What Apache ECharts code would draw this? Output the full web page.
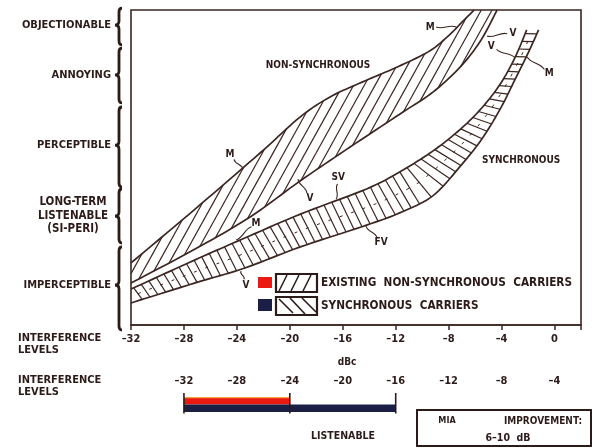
<!DOCTYPE html>
<html><head><meta charset="utf-8">
<script src="https://cdn.jsdelivr.net/npm/echarts/dist/echarts.min.js"></script>
<style>html,body{margin:0;padding:0;background:#fff}#c{width:595px;height:448px}</style>
</head><body><div id="c"></div>
<script>
// ---------- data (x = dBc, y = impairment level, 0 = bottom of scale, 100 = top) ----------
const xTickValues = [-32, -28, -24, -20, -16, -12, -8, -4, 0];
const listenTicks = [-32, -28, -24, -20, -16, -12, -8, -4];

// non-synchronous band: M (upper) and V (lower) curves
const nonSyncM = [[-32,19.7],[-27.16,36.8],[-22.25,54.6],[-19.23,66.0],[-16.96,72.4],[-14.54,77.1],[-12.05,81.6],[-9.55,86.7],[-8.04,91.7],[-6.98,96.2],[-6.07,100]];
const nonSyncV = [[-32,13.3],[-27.16,24.1],[-23.0,34.3],[-19.23,45.7],[-15.45,56.5],[-11.67,67.0],[-9.17,74.0],[-7.06,82.2],[-5.55,90.5],[-4.34,100]];
// synchronous band: upper (M / SV / V) and lower (V / FV / M) curves
const syncUpper = [[-32,11.4],[-27.2,20.6],[-23.9,26.7],[-19.2,35.2],[-14.2,43.2],[-11.7,48.6],[-9.2,55.2],[-7.1,62.2],[-5.5,68.9],[-4.1,76.5],[-3.0,84.8],[-2.1,93.7]];
const syncLower = [[-32,7.0],[-27.2,13.3],[-23.4,18.1],[-19.2,24.8],[-14.2,31.7],[-11.7,35.6],[-9.2,41.0],[-7.1,50.5],[-5.5,59.0],[-4.1,68.6],[-3.0,77.8],[-2.0,86.3],[-1.2,93.7]];

// subjective levels: name, top, bottom, label centre (same y units)
const levelNames = ['OBJECTIONABLE', 'ANNOYING', 'PERCEPTIBLE', 'LONG-TERM\nLISTENABLE\n(SI-PERI)', 'IMPERCEPTIBLE'];
const levelTop = [100.6, 87.9, 69.2, 43.2, 24.8];
const levelBottom = [88.9, 70.5, 43.8, 26.0, -1.6];
const levelMid = [95.2, 79.4, 57.1, 34.6, 12.7];

// curve annotations: text, label position, curve point
const annText = ['M', 'V', 'V', 'M', 'M', 'V', 'SV', 'M', 'FV', 'V', 'NON-SYNCHRONOUS', 'SYNCHRONOUS'];
const annLabel = [[-9.40,94.6],[-3.13,92.7],[-4.79,88.3],[-0.40,80.0],[-24.52,54.0],[-18.47,40.3],[-16.35,46.7],[-22.55,32.4],[-13.10,26.3],[-23.31,12.7],[-17.87,82.5],[-2.52,52.4]];
const annTarget = [[-7.43,94.6],[-5.09,91.7],[-2.98,84.8],[-2.07,85.1],[-23.53,49.5],[-19.38,46.3],[-16.50,40.0],[-24.06,27.0],[-14.24,31.4],[-23.69,17.1],null,null];

// listenable ranges on the second scale
const nonSyncListenable = [-32, -24];
const syncListenable = [-32, -16];

// ---------- styling ----------
const FONT = "'DejaVu Sans Condensed','Liberation Sans Narrow','DejaVu Sans',sans-serif";
const INK = '#2c1b18';
const LINE = '#3b2621';
const f = (sz) => 'bold ' + sz + 'px ' + FONT;

function catmull(pts, n) {
  const out = [];
  for (let i = 0; i < pts.length - 1; i++) {
    const p0 = pts[i - 1] || pts[i], p1 = pts[i], p2 = pts[i + 1], p3 = pts[i + 2] || pts[i + 1];
    for (let k = 0; k < n; k++) {
      const t = k / n, t2 = t * t, t3 = t2 * t;
      const o = [0, 1].map(d => 0.5 * (2 * p1[d] + (-p0[d] + p2[d]) * t + (2 * p0[d] - 5 * p1[d] + 4 * p2[d] - p3[d]) * t2 + (-p0[d] + 3 * p1[d] - 3 * p2[d] + p3[d]) * t3));
      out.push(o);
    }
  }
  out.push(pts[pts.length - 1].slice());
  return out;
}
function hatchPolygon(poly, theta, step) {
  const s = Math.sin(theta), c = Math.cos(theta);
  const proj = p => p[0] * s + p[1] * c;
  const along = p => p[0] * c - p[1] * s;
  let mn = Infinity, mx = -Infinity;
  poly.forEach(p => { const v = proj(p); mn = Math.min(mn, v); mx = Math.max(mx, v); });
  const segs = [];
  for (let k = Math.ceil(mn / step) * step + step * 0.3; k <= mx; k += step) {
    const hits = [];
    for (let i = 0; i < poly.length; i++) {
      const a = poly[i], b = poly[(i + 1) % poly.length];
      const fa = proj(a) - k, fb = proj(b) - k;
      if ((fa < 0) !== (fb < 0)) {
        const t = fa / (fa - fb);
        hits.push([a[0] + t * (b[0] - a[0]), a[1] + t * (b[1] - a[1])]);
      }
    }
    hits.sort((p, q) => along(p) - along(q));
    for (let j = 0; j + 1 < hits.length; j += 2) segs.push([hits[j], hits[j + 1]]);
  }
  return segs;
}
function closestOn(poly, p) {
  let best = null, bd = Infinity, tan = [1, 0];
  for (let i = 0; i < poly.length - 1; i++) {
    const a = poly[i], b = poly[i + 1];
    const dx = b[0] - a[0], dy = b[1] - a[1];
    const L2 = dx * dx + dy * dy || 1;
    let t = ((p[0] - a[0]) * dx + (p[1] - a[1]) * dy) / L2;
    t = Math.max(0, Math.min(1, t));
    const q = [a[0] + t * dx, a[1] + t * dy];
    const d = (q[0] - p[0]) ** 2 + (q[1] - p[1]) ** 2;
    if (d < bd) { bd = d; best = q; const l = Math.sqrt(L2); tan = [dx / l, dy / l]; }
  }
  return { q: best, tan };
}
function rungs(U, L, step, start, shift) {
  const out = [];
  let pos = start;
  for (let i = 0; i < U.length - 1; i++) {
    const a = U[i], b = U[i + 1];
    const len = Math.hypot(b[0] - a[0], b[1] - a[1]);
    while (pos <= len) {
      const p = [a[0] + (b[0] - a[0]) * pos / len, a[1] + (b[1] - a[1]) * pos / len];
      const c = closestOn(L, p);
      out.push([p, [c.q[0] + c.tan[0] * shift, c.q[1] + c.tan[1] * shift]]);
      pos += step;
    }
    pos -= len;
  }
  return out;
}
const lineEl = (a, b, w) => ({ type: 'line', shape: { x1: a[0], y1: a[1], x2: b[0], y2: b[1] }, style: { stroke: LINE, lineWidth: w, fill: 'none' } });
const polyEl = (pts, w) => ({ type: 'polyline', shape: { points: pts }, style: { stroke: LINE, lineWidth: w, fill: 'none' } });

function renderNonSync(params, api) {
  const U = catmull(nonSyncM.map(p => api.coord(p)), 10);
  const L = catmull(nonSyncV.map(p => api.coord(p)), 10);
  const poly = U.concat(L.slice().reverse());
  const segs = hatchPolygon(poly, 61 * Math.PI / 180, 9.4);
  const children = segs.map(s => lineEl(s[0], s[1], 1.2));
  children.push(polyEl(U, 1.7), polyEl(L, 1.7));
  return { type: 'group', children };
}
function renderSync(params, api) {
  const U = catmull(syncUpper.map(p => api.coord(p)), 10);
  const L = catmull(syncLower.map(p => api.coord(p)), 10);
  const rs = rungs(U, L, 8.3, 3, 4.5).filter(r => r[1][1] >= U[U.length - 1][1] - 0.5);
  const children = rs.map(r => lineEl(r[0], r[1], 1.2));
  const mids = rs.map(r => [(r[0][0] + r[1][0]) / 2, (r[0][1] + r[1][1]) / 2]);
  children.push({ type: 'polyline', shape: { points: mids }, style: { stroke: LINE, lineWidth: 1, fill: 'none', lineDash: [3, 9] } });
  children.push(polyEl(U, 1.7), polyEl(L, 1.7));
  return { type: 'group', children };
}
function renderLevels(params, api) {
  const i = params.dataIndex;
  const x0 = api.coord([-32, 0])[0] - 12;
  const y1 = api.coord([0, levelTop[i]])[1], y2 = api.coord([0, levelBottom[i]])[1], ym = api.coord([0, levelMid[i]])[1];
  const d = `M ${x0 + 3} ${y1} Q ${x0} ${y1} ${x0} ${y1 + 4} L ${x0} ${ym - 4} Q ${x0} ${ym} ${x0 - 4} ${ym} Q ${x0} ${ym} ${x0} ${ym + 4} L ${x0} ${y2 - 4} Q ${x0} ${y2} ${x0 + 3} ${y2}`;
  const multi = levelNames[i].indexOf('\n') >= 0;
  return { type: 'group', children: [
    { type: 'path', shape: { pathData: d }, style: { stroke: INK, lineWidth: 2.8, fill: 'none' } },
    { type: 'text', x: multi ? x0 - 46 : x0 - 8, y: ym, style: { text: levelNames[i], font: f(multi ? 11.5 : 11), fill: INK, align: multi ? 'center' : 'right', verticalAlign: 'middle', lineHeight: 13.5 } }
  ] };
}
function renderAnn(params, api) {
  const i = params.dataIndex;
  const lp = api.coord(annLabel[i]);
  const children = [{ type: 'text', x: lp[0], y: lp[1], style: { text: annText[i], font: f(10), fill: INK, align: 'center', verticalAlign: 'middle' } }];
  if (annTarget[i]) {
    const tp = api.coord(annTarget[i]);
    const dx = tp[0] - lp[0], dy = tp[1] - lp[1], len = Math.hypot(dx, dy);
    const ux = dx / len, uy = dy / len;
    const s = [lp[0] + ux * 6, lp[1] + uy * 6];
    const nx = -uy * 3, ny = ux * 3;
    children.push({ type: 'bezierCurve', shape: { x1: s[0], y1: s[1], x2: tp[0], y2: tp[1],
      cpx1: s[0] + (tp[0] - s[0]) * 0.33 + nx, cpy1: s[1] + (tp[1] - s[1]) * 0.33 + ny,
      cpx2: s[0] + (tp[0] - s[0]) * 0.66 - nx, cpy2: s[1] + (tp[1] - s[1]) * 0.66 - ny },
      style: { stroke: LINE, lineWidth: 1.1, fill: 'none' } });
  }
  return { type: 'group', children };
}
function renderListen(params, api) {
  const r0 = api.coord([nonSyncListenable[0], 2]), r1 = api.coord([nonSyncListenable[1], 1]);
  const n0 = api.coord([syncListenable[0], 1]), n1 = api.coord([syncListenable[1], 0]);
  const children = [
    { type: 'rect', shape: { x: r0[0], y: r0[1], width: r1[0] - r0[0], height: r1[1] - r0[1] }, style: { fill: '#ea1a12' } },
    { type: 'rect', shape: { x: r0[0], y: r0[1], width: r1[0] - r0[0], height: 1.2 }, style: { fill: '#f2a040' } },
    { type: 'rect', shape: { x: n0[0], y: n0[1], width: n1[0] - n0[0], height: n1[1] - n0[1] }, style: { fill: '#1b1f45' } }
  ];
  [syncListenable[0], nonSyncListenable[1], syncListenable[1]].forEach(v => {
    const a = api.coord([v, 2]), b = api.coord([v, 0]);
    children.push({ type: 'line', shape: { x1: a[0], y1: a[1] - 4, x2: b[0], y2: b[1] + 1.5 }, style: { stroke: INK, lineWidth: 1.6 } });
  });
  return { type: 'group', children };
}

const txt = (x, y, text, sz, align, extra) => Object.assign({ type: 'text', x, y, style: Object.assign({ text, font: f(sz), fill: INK, align: align || 'left', verticalAlign: 'middle' }, extra || {}) });
const rect = (x, y, w, h, style) => ({ type: 'rect', shape: { x, y, width: w, height: h }, style });
const seg = (x1, y1, x2, y2, w) => ({ type: 'line', shape: { x1, y1, x2, y2 }, style: { stroke: INK, lineWidth: w || 1.5 } });

const dash = v => (v < 0 ? '\u2013' + (-v) : String(v));
const chart = echarts.init(document.getElementById('c'), null, { renderer: 'canvas' });
chart.setOption({
  animation: false,
  backgroundColor: '#fff',
  grid: [
    { left: 131, right: 14, top: 10, bottom: 123, show: true, borderColor: LINE, borderWidth: 1.6, backgroundColor: 'transparent', outerBoundsMode: 'none' },
    { left: 131, right: 14, top: 397, height: 15, show: false, outerBoundsMode: 'none' }
  ],
  xAxis: [
    { type: 'value', gridIndex: 0, min: -32, max: 2, interval: 4, splitLine: { show: false },
      axisLine: { show: true, lineStyle: { color: LINE, width: 1.6 } },
      axisTick: { show: true, length: 5, lineStyle: { color: LINE, width: 1.5 } },
      axisLabel: { margin: 9, color: INK, fontFamily: FONT, fontWeight: 'bold', fontSize: 11,
        formatter: v => (xTickValues.indexOf(v) >= 0 ? dash(v) : '') } },
    { type: 'value', gridIndex: 1, position: 'top', min: -36, max: -2, interval: 4, splitLine: { show: false },
      axisLine: { show: false }, axisTick: { show: false },
      axisLabel: { margin: 10, color: INK, fontFamily: FONT, fontWeight: 'bold', fontSize: 11,
        formatter: v => (listenTicks.indexOf(v) >= 0 ? dash(v) : '') } }
  ],
  yAxis: [
    { type: 'value', gridIndex: 0, min: 0, max: 100, show: false },
    { type: 'value', gridIndex: 1, min: 0, max: 2, show: false }
  ],
  series: [
    { type: 'custom', name: 'non-synchronous', xAxisIndex: 0, yAxisIndex: 0, clip: false, data: [[0, 0]], renderItem: renderNonSync, silent: true },
    { type: 'custom', name: 'synchronous', xAxisIndex: 0, yAxisIndex: 0, clip: false, data: [[0, 0]], renderItem: renderSync, silent: true },
    { type: 'custom', name: 'levels', xAxisIndex: 0, yAxisIndex: 0, clip: false, data: levelMid.map(m => [-32, m]), renderItem: renderLevels, silent: true },
    { type: 'custom', name: 'annotations', xAxisIndex: 0, yAxisIndex: 0, clip: false, data: annLabel, renderItem: renderAnn, silent: true },
    { type: 'custom', name: 'listenable', xAxisIndex: 1, yAxisIndex: 1, clip: false, data: [[-32, 0]], renderItem: renderListen, silent: true }
  ],
  graphic: [
    // legend
    rect(258, 277, 14, 11, { fill: '#ea1a12' }),
    rect(258, 299, 14, 12, { fill: '#1b1f45' }),
    rect(276, 274, 41, 18, { fill: 'none', stroke: INK, lineWidth: 2.2 }),
    seg(279, 291, 287, 275, 1.6), seg(291, 291, 299, 275, 1.6), seg(303, 291, 311, 275, 1.6),
    rect(276, 297, 41, 18, { fill: 'none', stroke: INK, lineWidth: 2.2 }),
    seg(279, 299, 293, 313, 1.6), seg(290, 298, 305, 314, 1.6), seg(302, 298, 316, 312, 1.6),
    txt(321, 283, 'EXISTING  NON-SYNCHRONOUS  CARRIERS', 11.7),
    txt(321, 306, 'SYNCHRONOUS  CARRIERS', 11.7),
    // axis captions
    txt(18, 344, 'INTERFERENCE\nLEVELS', 11, 'left', { lineHeight: 12 }),
    txt(18, 386, 'INTERFERENCE\nLEVELS', 11, 'left', { lineHeight: 12 }),
    txt(347, 362, 'dBc', 10, 'center'),
    txt(343, 436, 'LISTENABLE', 10.5, 'center'),
    rect(417, 410, 174, 36, { fill: 'none', stroke: INK, lineWidth: 2 }),
    txt(447, 421, 'MIA', 9, 'center'),
    txt(543, 421, 'IMPROVEMENT:', 10, 'center'),
    txt(508, 438, '6\u201310  dB', 10.5, 'center')
  ]
});
</script></body></html>
